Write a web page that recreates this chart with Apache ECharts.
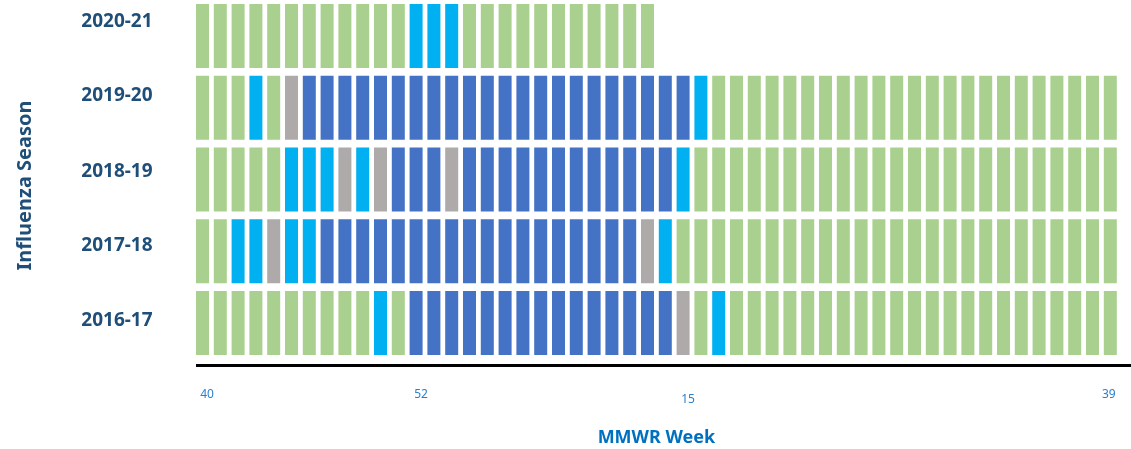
<!DOCTYPE html>
<html>
<head>
<meta charset="utf-8">
<script src="https://cdn.jsdelivr.net/npm/echarts@6/dist/echarts.min.js"></script>
<style>
  html, body { margin: 0; padding: 0; background: #ffffff; }
  #chart { width: 1131px; height: 449px; }
</style>
</head>
<body>
<div id="chart"></div>
<script>
// MMWR weeks (columns), season 40 .. 52, 1 .. 39
const weeks = ['40','41','42','43','44','45','46','47','48','49','50','51','52',
  '1','2','3','4','5','6','7','8','9','10','11','12','13','14','15','16','17','18','19','20',
  '21','22','23','24','25','26','27','28','29','30','31','32','33','34','35','36','37','38','39'];

// Influenza seasons (rows, bottom to top)
const seasons = ['2016-17', '2017-18', '2018-19', '2019-20', '2020-21'];

// Week labels shown on the axis
const weekTicks = ['40', '52', '15', '39'];

// Weekly status code per season: G = green, L = light blue, D = dark blue, Y = gray
const season2016_17 = ['G','G','G','G','G','G','G','G','G','G','L','G','D','D','D','D','D','D','D','D','D','D','D','D','D','D','D','Y','G','L','G','G','G','G','G','G','G','G','G','G','G','G','G','G','G','G','G','G','G','G','G','G'];
const season2017_18 = ['G','G','L','L','Y','L','L','D','D','D','D','D','D','D','D','D','D','D','D','D','D','D','D','D','D','Y','L','G','G','G','G','G','G','G','G','G','G','G','G','G','G','G','G','G','G','G','G','G','G','G','G','G'];
const season2018_19 = ['G','G','G','G','G','L','L','L','Y','L','Y','D','D','D','Y','D','D','D','D','D','D','D','D','D','D','D','D','L','G','G','G','G','G','G','G','G','G','G','G','G','G','G','G','G','G','G','G','G','G','G','G','G'];
const season2019_20 = ['G','G','G','L','G','Y','D','D','D','D','D','D','D','D','D','D','D','D','D','D','D','D','D','D','D','D','D','D','L','G','G','G','G','G','G','G','G','G','G','G','G','G','G','G','G','G','G','G','G','G','G','G'];
const season2020_21 = ['G','G','G','G','G','G','G','G','G','G','G','G','L','L','L','G','G','G','G','G','G','G','G','G','G','G'];

const seasonCodes = [season2016_17, season2017_18, season2018_19, season2019_20, season2020_21];

const colorMap = { G: '#A9D08E', L: '#00B0F0', D: '#4472C4', Y: '#AEAAAA' };

const cells = [];
seasonCodes.forEach((codes, si) => {
  codes.forEach((code, wi) => {
    cells.push({ value: [wi, si], itemStyle: { color: colorMap[code] } });
  });
});

// per-row label shift and per-tick label nudges (layout only)
const rowPad = [6, 12, 16, 24, 28];
const tickPad = { '40': [0, 0, 0, 9], '52': [0, 0, 0, 10], '15': [5, 0, 0, 10], '39': [0, 3, 0, 0] };

const yRich = {};
rowPad.forEach((p, i) => {
  yRich['r' + i] = { fontFamily: 'Noto Sans', fontWeight: 'bold', fontSize: 19, color: '#1F4E79', padding: [0, 0, p, 0] };
});
const xRich = {};
weekTicks.forEach((t) => {
  xRich['w' + t] = { fontFamily: 'Noto Sans', fontSize: 12, color: '#2A7FCB', padding: tickPad[t] };
});

const chart = echarts.init(document.getElementById('chart'), null, { renderer: 'canvas' });
chart.setOption({
  animation: false,
  backgroundColor: '#ffffff',
  grid: { left: 193.6, right: 11.8, top: 0, bottom: 90, containLabel: false, outerBoundsMode: 'none' },
  xAxis: {
    type: 'category',
    data: weeks,
    boundaryGap: true,
    axisLine: { show: false },
    axisTick: { show: false },
    splitLine: { show: false },
    axisLabel: {
      interval: (i, v) => weekTicks.indexOf(v) >= 0,
      margin: 30,
      formatter: (v) => '{w' + v + '|' + v + '}',
      rich: xRich
    },
    name: 'MMWR Week',
    nameLocation: 'middle',
    nameGap: 70,
    nameTextStyle: { fontFamily: 'Noto Sans', fontWeight: 'bold', fontSize: 18, color: '#0070C0' }
  },
  yAxis: {
    type: 'category',
    data: seasons,
    boundaryGap: true,
    axisLine: { show: false },
    axisTick: { show: false },
    splitLine: { show: false },
    axisLabel: {
      margin: 41,
      formatter: (v, i) => '{r' + i + '|' + v + '}',
      rich: yRich
    },
    name: 'Influenza Season',
    nameLocation: 'middle',
    nameGap: 158,
    nameTextStyle: { fontFamily: 'Noto Sans', fontWeight: 'bold', fontSize: 20, color: '#1F4E79', padding: [0, 12, 0, 0] }
  },
  graphic: [{
    type: 'line',
    shape: { x1: 196, y1: 365.5, x2: 1131, y2: 365.5 },
    style: { stroke: '#000000', lineWidth: 3 },
    silent: true
  }],
  series: [{
    type: 'custom',
    data: cells,
    renderItem: (params, api) => {
      const c = api.coord([api.value(0), api.value(1)]);
      const s = api.size([1, 1]);
      const w = s[0] * 0.73;
      const h = s[1] * 0.892;
      return {
        type: 'rect',
        shape: { x: c[0] - w / 2, y: c[1] - h / 2, width: w, height: h },
        style: { fill: api.visual('color') }
      };
    }
  }]
});
</script>
</body>
</html>
